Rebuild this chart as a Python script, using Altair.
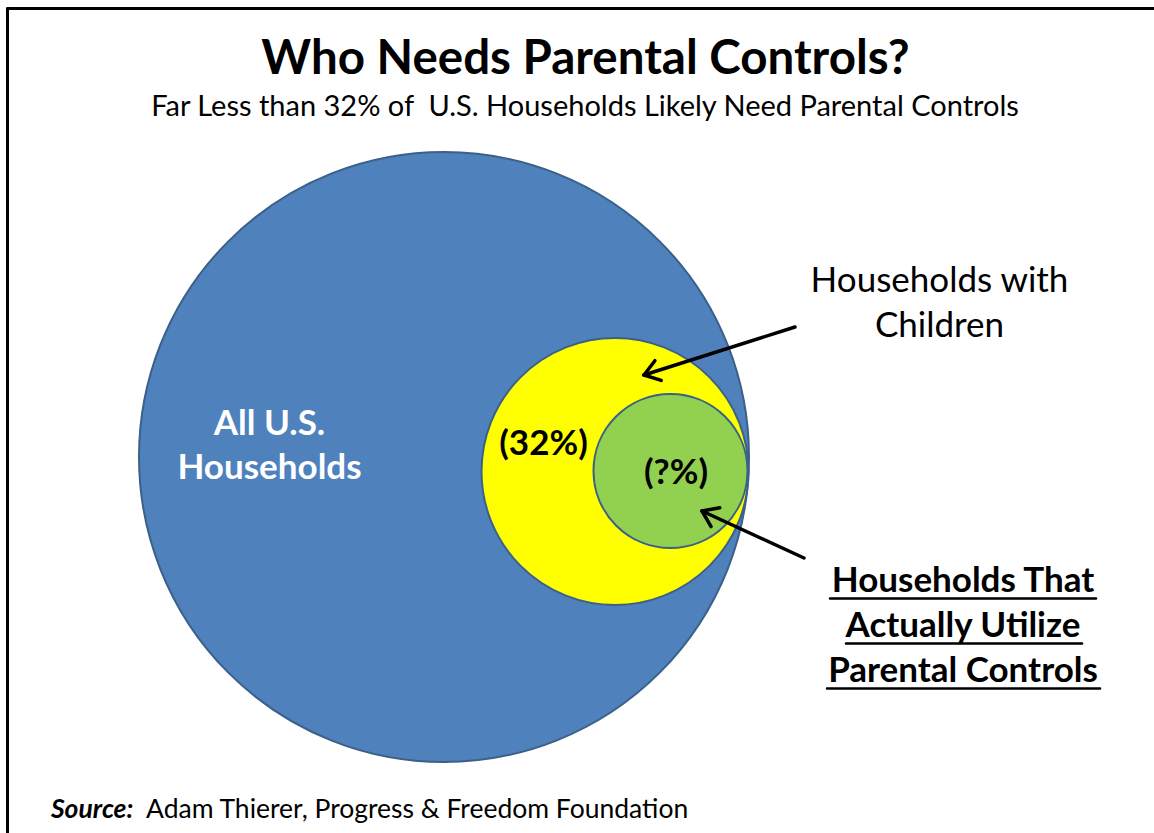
import math
import altair as alt
import pandas as pd

W, H = 1154, 833
FONT = "Lato"

# ---- circles (nested Venn-style diagram) ----
circle_names = ["All U.S. Households", "Households with Children", "Households Using Parental Controls"]
circle_cx = [444, 615, 670.5]
circle_cy = [457, 471.5, 471]
circle_diam = [610, 267, 154]
circle_fill = ["#4f81bd", "#ffff00", "#92d050"]
circle_stroke = "#3b6089"

# ---- text labels ----
title_text = "Who Needs Parental Controls?"
subtitle_text = "Far Less than 32% of \u00a0U.S. Households Likely Need Parental Controls"
blue_label = ["All U.S.", "Households"]
yellow_label = "(32%)"
green_label = "(?%)"
children_label = ["Households with", "Children"]
utilize_label = ["Households That", "Actually Utilize", "Parental Controls"]
source_bold = "Source:"
source_rest = "Adam Thierer, Progress & Freedom Foundation"

# ---- arrows (tail -> tip) ----
arrow_tail = [(795, 327), (804, 558)]
arrow_tip = [(644, 375), (702, 511)]
HEAD_LEN, HEAD_ANG = 18, 35

# ---- underline extents for the bold label ----
underline_x0 = [830, 846, 827]
underline_x1 = [1096, 1082, 1100]
underline_y = [598.5, 643.5, 688.5]

xs = alt.Scale(domain=[0, W], nice=False, zero=False)
ys = alt.Scale(domain=[0, H], nice=False, zero=False, reverse=True)

circ_df = pd.DataFrame({
    "name": circle_names,
    "x": circle_cx,
    "y": circle_cy,
    "area": [d * d for d in circle_diam],
    "fill": circle_fill,
})
circles = alt.Chart(circ_df).mark_point(
    shape="circle", filled=True, opacity=1, stroke=circle_stroke, strokeWidth=2
).encode(
    x=alt.X("x:Q", scale=xs, axis=None),
    y=alt.Y("y:Q", scale=ys, axis=None),
    size=alt.Size("area:Q", scale=None, legend=None),
    fill=alt.Fill("fill:N", scale=None, legend=None),
    order=alt.Order("area:Q", sort="descending"),
)

rows = []
def add(text, x, y, size, color, group):
    rows.append(dict(text=text, x=x, y=y, size=size, color=color, group=group))

add(title_text, 585.5, 74, 47.5, "#000000", "title")
add(subtitle_text, 585, 116, 29, "#000000", "normal_c")
add(blue_label[0], 269.5, 435, 35, "#ffffff", "bold_c")
add(blue_label[1], 269.5, 479, 35, "#ffffff", "bold_c")
add(yellow_label, 543.5, 455, 35, "#000000", "bold_c")
add(green_label, 676, 483.5, 35, "#000000", "bold_c")
add(children_label[0], 939.5, 292, 35, "#000000", "normal_c")
add(children_label[1], 939.5, 337, 35, "#000000", "normal_c")
for i, t in enumerate(utilize_label):
    add(t, 963, 591.7 + 45 * i, 35, "#000000", "bold_c")
add(source_bold, 51, 818, 26.5, "#000000", "source_b")
add(source_rest, 146, 818, 26.5, "#000000", "source_n")
text_df = pd.DataFrame(rows)

def text_layer(group, weight, style, align):
    return alt.Chart(text_df[text_df.group == group]).mark_text(
        font=FONT, fontWeight=weight, fontStyle=style, align=align, baseline="alphabetic"
    ).encode(
        x=alt.X("x:Q", scale=xs, axis=None),
        y=alt.Y("y:Q", scale=ys, axis=None),
        text="text:N",
        size=alt.Size("size:Q", scale=None, legend=None),
        color=alt.Color("color:N", scale=None, legend=None),
    )

texts = [
    text_layer("title", "bold", "normal", "center"),
    text_layer("normal_c", "normal", "normal", "center"),
    text_layer("bold_c", "bold", "normal", "center"),
    text_layer("source_b", "bold", "italic", "left"),
    text_layer("source_n", "normal", "normal", "left"),
]

# ---- line segments: frame, arrows, arrowheads, underlines ----
segs = []
segs.append(dict(x=7.5, y=8.5, x2=7.5, y2=H, w=3))
segs.append(dict(x=7.5, y=8.5, x2=W, y2=8.5, w=3))
for (tx, ty), (hx, hy) in zip(arrow_tail, arrow_tip):
    segs.append(dict(x=tx, y=ty, x2=hx, y2=hy, w=3.5))
    ang = math.atan2(ty - hy, tx - hx)
    for s in (-1, 1):
        a = ang + s * math.radians(HEAD_ANG)
        segs.append(dict(x=hx, y=hy, x2=hx + HEAD_LEN * math.cos(a), y2=hy + HEAD_LEN * math.sin(a), w=3.5))
for x0, x1, y in zip(underline_x0, underline_x1, underline_y):
    segs.append(dict(x=x0, y=y, x2=x1, y2=y, w=2.5))
seg_df = pd.DataFrame(segs)

rules = alt.Chart(seg_df).mark_rule(color="#000000", strokeCap="round").encode(
    x=alt.X("x:Q", scale=xs, axis=None),
    y=alt.Y("y:Q", scale=ys, axis=None),
    x2="x2:Q",
    y2="y2:Q",
    strokeWidth=alt.StrokeWidth("w:Q", scale=None, legend=None),
)

chart = alt.layer(circles, *texts, rules).properties(
    width=W, height=H, padding=0, autosize="none", background="#ffffff"
).configure_view(stroke=None)

chart.save("out.html", embed_options={"renderer": "svg", "actions": False})
